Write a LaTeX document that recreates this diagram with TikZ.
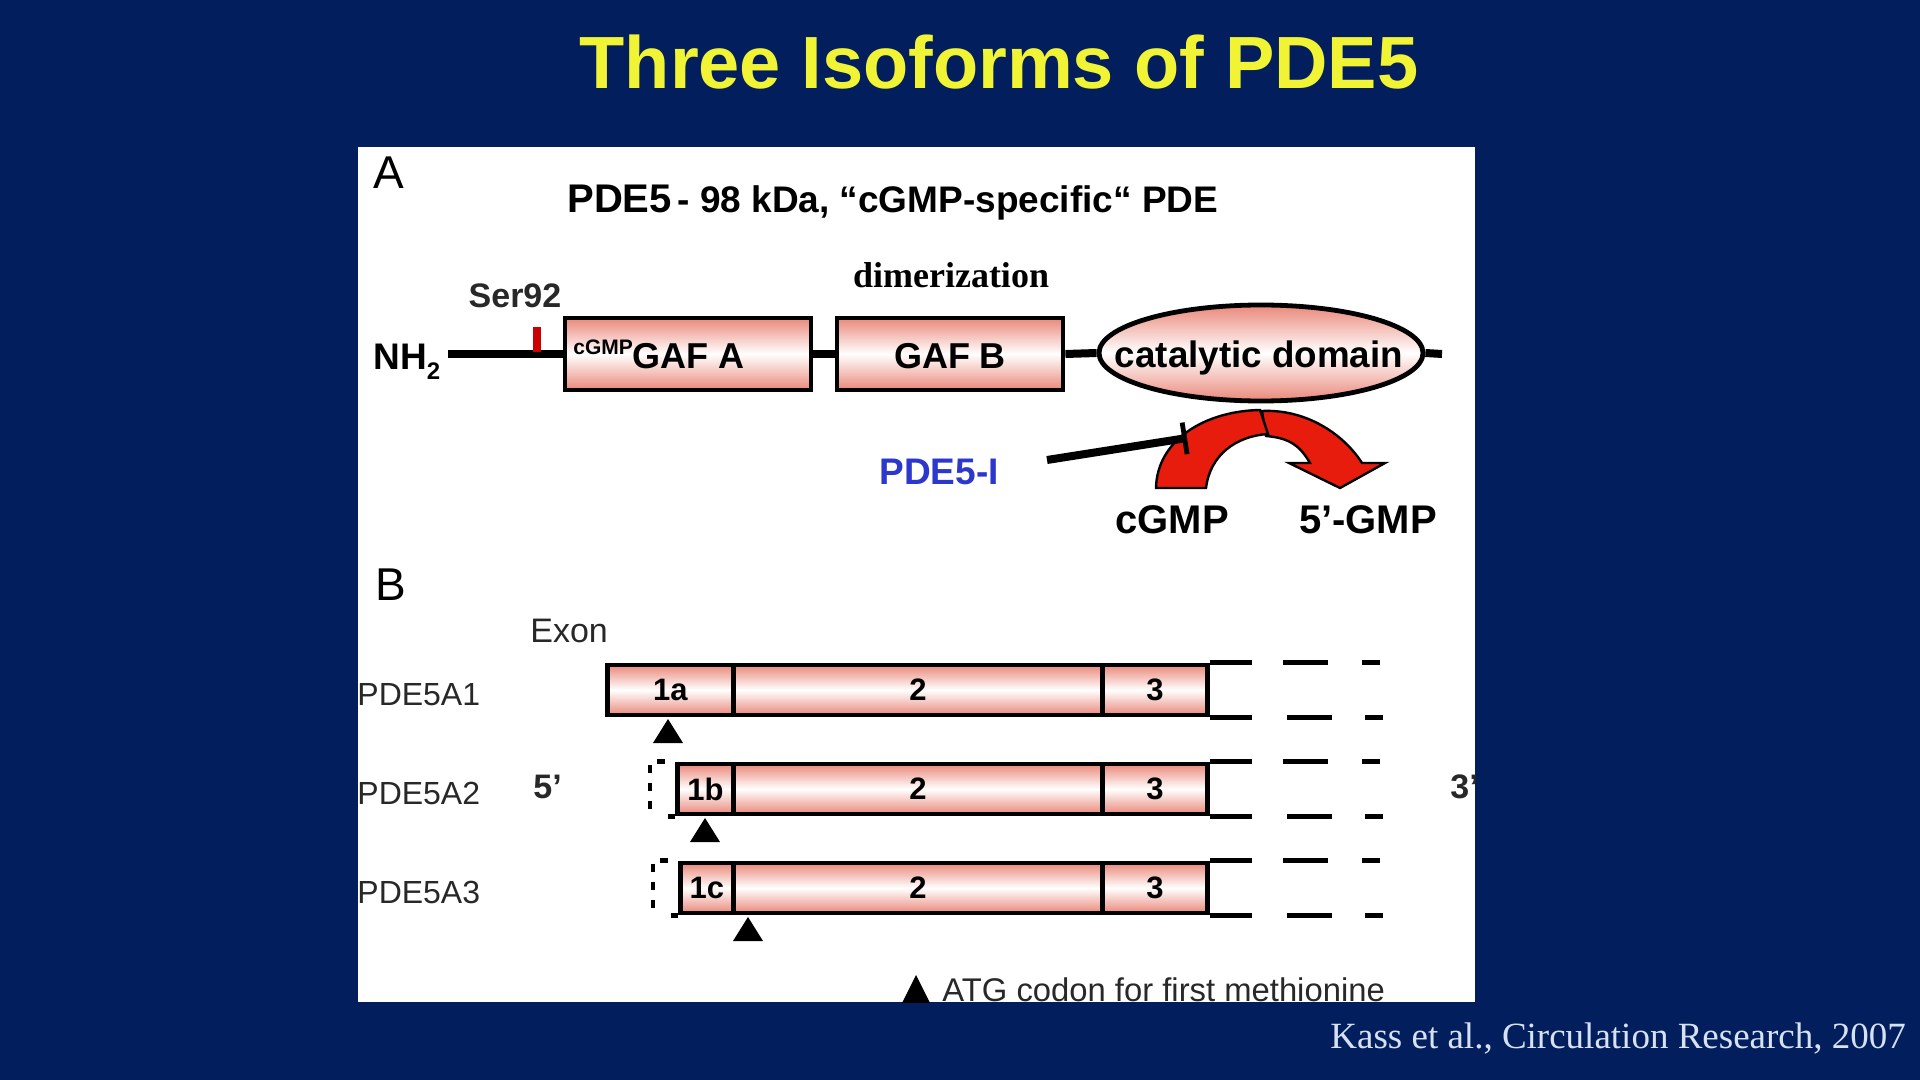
\documentclass[tikz,border=0pt]{standalone}
\usepackage{fontspec}
\setmainfont{Liberation Sans}
\newfontfamily\timesface{Liberation Serif}
\usepackage{tikz}
\usetikzlibrary{
    arrows.meta,
    calc,
    shapes.geometric
}

\definecolor{slidebg}{RGB}{3,30,92}
\definecolor{slidetitle}{RGB}{240,244,52}
\definecolor{salmon}{RGB}{234,136,122}
\definecolor{pdered}{RGB}{232,28,12}
\definecolor{inhblue}{RGB}{44,56,204}
\definecolor{citeblue}{RGB}{214,226,244}
\definecolor{labgray}{RGB}{40,40,40}

\newcommand{\setsz}[1]{\fontsize{#1pt}{#1pt}\selectfont}

\begin{document}
\begin{tikzpicture}[x=0.5pt, y=-0.5pt,
    chain/.style={line width=4pt},
    domainbox/.style={draw, line width=2.4pt, top color=salmon, bottom color=salmon, middle color=white, inner sep=0pt},
    exon/.style={draw, line width=2.4pt, top color=salmon, bottom color=salmon, middle color=white, minimum height=25pt, inner sep=0pt, font=\setsz{15.5}\bfseries},
    geneline/.style={line width=2.4pt},
    rowlabel/.style={anchor=base west, inner sep=0pt, text=labgray, font=\setsz{16}},
    turnover/.style={fill=pdered, draw=black, line width=1.2pt}
]
        % Slide background and white panel
        \useasboundingbox (0,0) rectangle (1920,1080);
        \fill[slidebg] (0,0) rectangle (1920,1080);
        \fill[white] (358,147) rectangle (1475,1002);

        \node[anchor=base, text=slidetitle, font=\setsz{37}\bfseries] (title) at (999,89) {Three Isoforms of PDE5};

        \begin{scope}
        \clip (358,147) rectangle (1475,1002);

        % Panel A: domain structure
        \node[anchor=base west, inner sep=0pt, font=\setsz{23}] (labA) at (373,189) {A};
        \node[anchor=base west, inner sep=0pt, font=\bfseries] (head) at (567,213)
            {{\setsz{20}PDE5} {\setsz{18.5}- 98 kDa, “cGMP-specific“ PDE}};

        \coordinate (nterm) at (448,354);
        \node[domainbox, minimum width=123pt, minimum height=36pt] (gafA) at (688,354) {};
        \node[domainbox, minimum width=113pt, minimum height=36pt] (gafB) at (950,354) {};
        \node[domainbox, ellipse, minimum width=162pt, minimum height=48pt] (cat) at (1261,353) {};
        \coordinate (cterm) at (1442,354);
        \draw[chain] (nterm) -- (gafA.west);
        \draw[chain] (gafA.east) -- (gafB.west);
        \draw[chain] (gafB.east) -- (cat.west);
        \draw[chain] (cat.east) -- (cterm);

        % Ser92 site
        \fill[red!80!black] (533,327) rectangle (541,352);
        \node[anchor=base, font=\setsz{17}\bfseries, text=labgray] (ser) at (515,308) {Ser92};
        \node[anchor=base west, inner sep=0pt, font=\setsz{18.5}\bfseries] (nh) at (373,370) {NH\raisebox{-5pt}{\setsz{12}2}};

        % Domain labels
        \node[anchor=base west, inner sep=0pt, font=\setsz{18}\bfseries] (gafAtxt) at (573,368) {\raisebox{6.5pt}{\setsz{10.5}cGMP}GAF A};
        \node[anchor=base, font=\setsz{18}\bfseries] (gafBtxt) at (950,368) {GAF B};
        \node[anchor=base, font=\setsz{18.4}\bfseries] (cattxt) at (1259,367) {catalytic domain};
        \node[anchor=base, font=\timesface\bfseries\setsz{18}] (dimer) at (951,288) {dimerization};

        % Hydrolysis and inhibitor
        \node[anchor=base, font=\setsz{18.5}\bfseries, text=inhblue] (pdei) at (939,484) {PDE5-I};
        \node[anchor=base, font=\setsz{20}\bfseries] (cgmp) at (1172,533) {cGMP};
        \node[anchor=base, font=\setsz{20}\bfseries] (gmp) at (1368,533) {5’-GMP};

        \filldraw[turnover] (1262,411) .. controls (1304,409) and (1342,432) .. (1362,463)
            -- (1385,463) -- (1340,488) -- (1289,463) -- (1310,463)
            .. controls (1300,446) and (1290,438) .. (1266,436) -- cycle;
        \filldraw[turnover] (1156,488) .. controls (1157,440) and (1205,411) .. (1260,410)
            -- (1268,434) .. controls (1236,436) and (1210,455) .. (1206,488) -- cycle;

        \coordinate (inhA) at (1047,460);
        \coordinate (inhB) at (1187,438);
        \draw[line width=4pt, -{Bar[width=16pt, line width=2.4pt]}] (inhA) -- (inhB);

        % Panel B: exon structure
        \node[anchor=base west, inner sep=0pt, font=\setsz{23}] (labB) at (375,600) {B};
        \node[anchor=base west, inner sep=0pt, font=\setsz{17}, text=labgray] (exonhd) at (530,642) {Exon};
        \node[anchor=base west, inner sep=0pt, font=\setsz{17}\bfseries, text=labgray] (five) at (533,798) {5’};
        \node[anchor=base west, inner sep=0pt, font=\setsz{17}\bfseries, text=labgray] (three) at (1450,798) {3’};

        \foreach \r/\y/\xl/\ax/\ex in {1/690/605/668/1a, 2/789/675/705/1b, 3/888/678/748/1c}{
            \pgfmathsetmacro{\wone}{(731-\xl)/2}
            \node[rowlabel] (row\r) at (357,\y+15) {PDE5A\r};
            \node[exon, minimum width=\wone pt, anchor=west] (ex\r-a) at (\xl,\y) {\ex};
            \node[exon, minimum width=184.5pt, anchor=west] (ex\r-b) at (731,\y) {2};
            \node[exon, minimum width=52.5pt, anchor=west] (ex\r-c) at (1100,\y) {3};
            \draw[geneline] (ex\r-c.north east) -- ++(42,0);
            \draw[geneline] (ex\r-c.south east) -- ++(42,0);
            \draw[geneline] ($(ex\r-c.north east)+(73,0)$) -- ++(45,0);
            \draw[geneline] ($(ex\r-c.north east)+(152,0)$) -- ++(18,0);
            \draw[geneline] ($(ex\r-c.south east)+(77,0)$) -- ++(45,0);
            \draw[geneline] ($(ex\r-c.south east)+(155,0)$) -- ++(18,0);
            \coordinate (atg\r) at (\ax,\y+29);
            \fill (atg\r) -- ++(15,24) -- ++(-30,0) -- cycle;
        }

        % Alternative first exons
        \foreach \r in {2,3}{
            \draw[geneline, dash pattern=on 4pt off 5pt] ($(ex\r-a.north west)+(-10,0)$) -| ($(ex\r-a.south west)+(-25,0)$);
            \draw[geneline] ($(ex\r-a.south west)+(-7,0)$) -- (ex\r-a.south west);
        }

        % Key
        \coordinate (keytri) at (916,975);
        \fill (keytri) -- ++(14,28) -- ++(-28,0) -- cycle;
        \node[anchor=base west, inner sep=0pt, font=\setsz{16.4}, text=labgray] (key) at (942,1001) {ATG codon for first methionine};
        \end{scope}

        \node[anchor=base west, inner sep=0pt, font=\timesface\setsz{18.5}, text=citeblue] (cite) at (1330,1048) {Kass et al., Circulation Research, 2007};
\end{tikzpicture}
\end{document}
